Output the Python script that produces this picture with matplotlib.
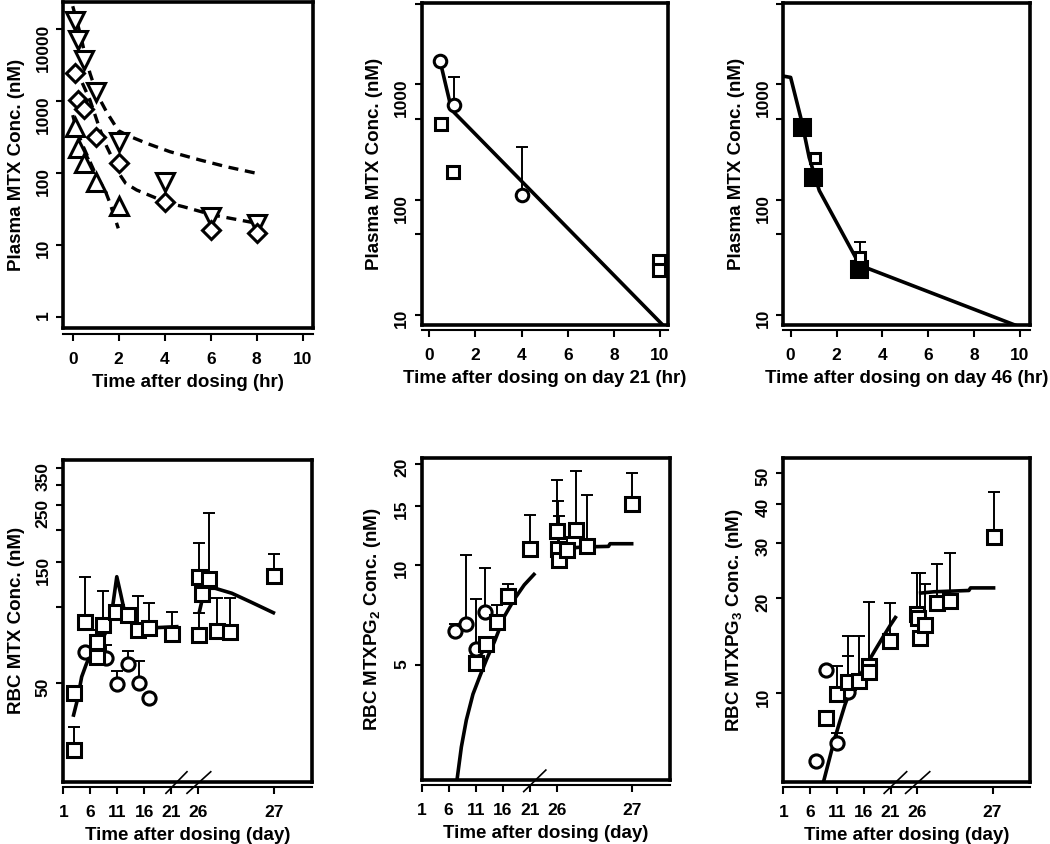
import matplotlib
matplotlib.use('Agg')
import matplotlib.pyplot as plt
import numpy as np
from matplotlib.transforms import blended_transform_factory
from matplotlib.ticker import NullLocator

plt.rcParams['font.family'] = 'Liberation Sans'
plt.rcParams['font.weight'] = 'bold'
plt.rcParams['axes.labelweight'] = 'bold'
plt.rcParams['mathtext.fontset'] = 'custom'
plt.rcParams['mathtext.rm'] = 'Liberation Sans:bold'
plt.rcParams['mathtext.bf'] = 'Liberation Sans:bold'

# --- panel 1: plasma MTX, first dose (hr) ---
p1_dn_t = [0.08, 0.25, 0.5, 1.0, 2.0, 4.0, 6.0, 8.0]
p1_dn_c = [13000, 7100, 3740, 1350, 273, 74, 24.7, 19.5]
p1_dia_t = [0.08, 0.25, 0.5, 1.0, 2.0, 4.0, 6.0, 8.0]
p1_dia_c = [2500, 1050, 780, 320, 136, 40, 16, 14.5]
p1_up_t = [0.08, 0.25, 0.5, 1.0, 2.0]
p1_up_c = [440, 220, 140, 75, 35]
p1_fit_a_t = [0.0, 0.32, 0.53, 0.75, 1.04, 1.48, 1.98, 2.42, 3.22, 4.23, 5.53, 6.7, 8.0]
p1_fit_a_c = [21000, 8800, 4500, 2440, 1285, 700, 390, 330, 259, 198, 152, 122, 99]
p1_fit_b_t = [0.1, 0.39, 0.75, 1.19, 1.48, 1.77, 2.0, 2.3, 2.78, 3.65, 4.23, 4.81, 6.11, 8.0]
p1_fit_b_c = [2900, 1866, 1037, 398, 232, 150, 100, 72, 58, 44.5, 37.8, 34, 26, 20]
p1_fit_c_t = [0.0, 0.17, 0.46, 1.04, 1.4, 1.62, 1.98]
p1_fit_c_c = [640, 398, 232, 89, 58, 38, 17]

# --- panel 2: plasma MTX on day 21 ---
p2_circ_t = [0.46, 1.07, 4.0]
p2_circ_c = [1611, 663, 110.6]
p2_circ_top = [np.nan, 1156, 284]
p2_sq_t = [0.5, 1.04, 9.97, 9.97]
p2_sq_c = [457, 173, 29.2, 24.8]
p2_fit_t = [0.45, 0.97, 10.2]
p2_fit_c = [1650, 600, 7.9]

# --- panel 3: plasma MTX on day 46 ---
p3_fill_t = [0.48, 0.99, 2.97]
p3_fill_c = [428, 158, 25.3]
p3_open_t = [1.06, 3.02]
p3_open_c = [232, 31.8]
p3_open_top = [np.nan, 43.4]
p3_fit_t = [-0.32, 0.0, 0.48, 0.81, 1.25, 3.02, 9.78]
p3_fit_c = [1180, 1150, 480, 232, 120, 27, 8.2]

# bottom row: axis positions, days 1..26 linear, "27" sits at position 40
day_ticks = [1, 6, 11, 16, 21, 26, 40]
day_labels = ['1', '6', '11', '16', '21', '26', '27']

# --- panel 4: RBC MTX ---
p4_sq_x = [3.0, 3.0, 5.0, 7.2, 7.2, 8.4, 10.8, 13.0, 14.9, 16.9, 21.1, 26.2, 26.2, 26.6, 28.0, 29.5, 31.9, 40.0]
p4_sq_y = [27.4, 45.7, 87.3, 72.9, 63.7, 84.8, 95.6, 92.8, 81.0, 82.3, 78.2, 77.5, 131.1, 111.8, 128.4, 80.5, 79.8, 132]
p4_sq_top = [33.7, 48.4, 131.1, 81.0, np.nan, 115.2, np.nan, np.nan, 110.1, 103.1, 95.6, 94.2, 178.2, np.nan, 232.4, 107.9, 107.9, 160.5]
p4_circ_x = [5.0, 8.9, 11.0, 13.0, 15.0, 16.9]
p4_circ_y = [66.6, 62.8, 49.8, 59.6, 50.4, 43.7]
p4_circ_top = [np.nan, 70.8, 56.1, 67.2, 61.2, np.nan]
p4_fit1_x = [2.9, 3.6, 4.4, 5.2, 6.1, 7.2, 8.1, 9.1, 10.0, 10.9, 11.6, 12.4, 13.4, 14.6, 15.8, 22.0]
p4_fit1_y = [37.6, 43.1, 53.1, 59.1, 65.7, 69.7, 74.0, 81.0, 95.6, 131.1, 112.8, 94.2, 90.1, 84.8, 82.3, 83.5]
p4_fit2_x = [26.2, 27.2, 29.1, 32.2, 35.6, 39.9]
p4_fit2_y = [95.6, 118.1, 118.1, 112.9, 104.6, 94.7]

# --- panel 5: RBC MTXPG2 ---
p5_sq_x = [11.1, 12.95, 15.0, 16.9, 21.0, 26.1, 26.3, 26.5, 28.0, 29.5, 31.6, 40.0]
p5_sq_y = [5.08, 5.81, 6.74, 8.08, 11.13, 12.63, 11.16, 10.3, 11.05, 12.66, 11.34, 15.2]
p5_sq_top = [np.nan, np.nan, 7.56, 8.78, 14.03, 17.9, 15.5, 14.0, 12.08, 19.1, 16.1, 18.8]
p5_circ_x = [7.12, 9.2, 11.0, 12.8]
p5_circ_y = [6.34, 6.65, 5.59, 7.24]
p5_circ_top = [6.64, 10.66, 7.9, 9.79]
p5_fit1_x = [7.43, 8.35, 9.27, 10.5, 11.8, 13.0, 14.5, 16.3, 18.2, 20.0, 21.8]
p5_fit1_y = [2.2, 2.85, 3.43, 4.1, 4.65, 5.2, 5.9, 7.0, 7.9, 8.7, 9.35]
p5_fit2_x = [25.5, 31.0, 35.6, 35.9, 39.9]
p5_fit2_y = [11.1, 11.3, 11.34, 11.55, 11.55]

# --- panel 6: RBC MTXPG3 ---
p6_sq_x = [9.0, 11.1, 13.0, 15.2, 17.0, 17.0, 20.9, 25.9, 26.1, 26.5, 27.5, 29.6, 32.0, 40.2]
p6_sq_y = [8.33, 9.92, 10.85, 10.9, 12.2, 11.7, 14.7, 17.9, 17.3, 15.0, 16.5, 19.35, 19.6, 31.4]
p6_sq_top = [np.nan, 12.2, 15.2, 15.2, 19.5, np.nan, 19.3, 24.1, np.nan, 24.0, 22.3, 25.7, 27.8, 43.6]
p6_circ_x = [7.1, 9.0, 11.1, 13.1]
p6_circ_y = [6.1, 11.85, 6.97, 10.1]
p6_circ_top = [np.nan, np.nan, 7.5, 13.1]
p6_fit1_x = [8.5, 9.5, 10.5, 11.5, 12.5, 13.5, 15.0, 16.5, 18.0, 19.5, 21.0, 21.9]
p6_fit1_y = [5.24, 6.1, 7.1, 8.1, 9.2, 10.2, 11.2, 12.3, 13.6, 15.0, 16.5, 17.4]
p6_fit2_x = [26.6, 29.1, 35.6, 35.9, 40.2]
p6_fit2_y = [20.8, 21.0, 21.2, 21.6, 21.6]


def frame(ax, xticks, xlabels, yticks, ylabels, xlabel, ylabel):
    for s in ax.spines.values():
        s.set_linewidth(2.6)
    ax.tick_params(axis='x', bottom=False, labelbottom=False)
    ax.set_yticks(yticks, ylabels)
    ax.yaxis.set_minor_locator(NullLocator())
    ax.tick_params(axis='y', direction='out', length=5, width=1.5,
                   labelsize=12.5, labelrotation=90, pad=4)
    ax.set_ylabel(ylabel, fontsize=13.5, labelpad=8)
    sec = ax.secondary_xaxis(-0.016)
    sec.set_xticks(xticks, xlabels)
    sec.spines['bottom'].set_linewidth(1.5)
    sec.tick_params(direction='out', length=5, width=1.5, labelsize=12.5, pad=8)
    sec.set_xlabel(xlabel, fontsize=13.5, labelpad=5)
    return sec


def up_err(ax, x, y, top):
    x, y, top = np.asarray(x), np.asarray(y), np.asarray(top)
    m = ~np.isnan(top)
    ax.errorbar(x[m], y[m], yerr=[np.zeros(m.sum()), top[m] - y[m]], fmt='none',
                ecolor='k', elinewidth=1.4, capsize=4.5, capthick=1.4, zorder=2)


def marks(ax, x, y, m, ms, face='white', mew=2.2):
    ax.plot(x, y, linestyle='none', marker=m, ms=ms, mfc=face, mec='k', mew=mew, zorder=3)


def breaks(ax, spans):
    tr = blended_transform_factory(ax.transData, ax.transAxes)
    for a, b in spans:
        ax.plot([a, b], [-0.036, 0.031], color='k', lw=1.2, transform=tr, clip_on=False)


fig = plt.figure(figsize=(10.5, 8.44), dpi=100)
ax1 = fig.add_axes([0.0603, 0.611, 0.2381, 0.3872])
ax2 = fig.add_axes([0.4016, 0.6149, 0.2349, 0.3812])
ax3 = fig.add_axes([0.746, 0.6149, 0.2350, 0.3812])
ax4 = fig.add_axes([0.0603, 0.0738, 0.2366, 0.3812])
ax5 = fig.add_axes([0.4016, 0.0758, 0.2365, 0.3812])
ax6 = fig.add_axes([0.746, 0.0738, 0.2350, 0.3832])

hr_ticks = [0, 2, 4, 6, 8, 10]
hr_labels = [str(t) for t in hr_ticks]
plasma = 'Plasma MTX Conc. (nM)'

# panel 1
ax1.set_yscale('log')
ax1.set_xlim(-0.41, 10.46)
ax1.set_ylim(0.69, 24400)
dash = (0, (3, 2))
for t, c in [(p1_fit_a_t, p1_fit_a_c), (p1_fit_b_t, p1_fit_b_c), (p1_fit_c_t, p1_fit_c_c)]:
    ax1.plot(t, c, color='k', lw=2.4, linestyle=dash, zorder=2)
marks(ax1, p1_dn_t, p1_dn_c, 'v', 12.5)
marks(ax1, p1_dia_t, p1_dia_c, 'D', 9)
marks(ax1, p1_up_t, p1_up_c, '^', 12.5)
frame(ax1, hr_ticks, hr_labels, [1, 10, 100, 1000, 10000], ['1', '10', '100', '1000', '10000'],
      'Time after dosing (hr)', plasma)

# panel 2
ax2.set_yscale('log')
ax2.set_xlim(-0.33, 10.36)
ax2.set_ylim(8.2, 5050)
ax2.plot(p2_fit_t, p2_fit_c, color='k', lw=2.6, zorder=2)
up_err(ax2, p2_circ_t, p2_circ_c, p2_circ_top)
marks(ax2, p2_circ_t, p2_circ_c, 'o', 9)
marks(ax2, p2_sq_t, p2_sq_c, 's', 8.5)
p_ticks = [10, 50, 100, 500, 1000, 5000]
p_labels = ['10', '', '100', '', '1000', '']
frame(ax2, hr_ticks, hr_labels, p_ticks, p_labels, 'Time after dosing on day 21 (hr)', plasma)

# panel 3
ax3.set_yscale('log')
ax3.set_xlim(-0.32, 10.44)
ax3.set_ylim(8.2, 5050)
ax3.plot(p3_fit_t, p3_fit_c, color='k', lw=2.6, zorder=2)
up_err(ax3, p3_open_t, p3_open_c, p3_open_top)
marks(ax3, p3_fill_t, p3_fill_c, 's', 11, face='k')
marks(ax3, p3_open_t, p3_open_c, 's', 7.5)
frame(ax3, hr_ticks, hr_labels, p_ticks, p_labels, 'Time after dosing on day 46 (hr)', plasma)

day_label = 'Time after dosing (day)'

# panel 4
ax4.set_yscale('log')
ax4.set_xlim(1, 47)
ax4.set_ylim(20.6, 376)
ax4.plot(p4_fit1_x, p4_fit1_y, color='k', lw=2.6, zorder=2)
ax4.plot(p4_fit2_x, p4_fit2_y, color='k', lw=2.6, zorder=2)
up_err(ax4, p4_sq_x, p4_sq_y, p4_sq_top)
up_err(ax4, p4_circ_x, p4_circ_y, p4_circ_top)
marks(ax4, p4_circ_x, p4_circ_y, 'o', 9.5)
marks(ax4, p4_sq_x, p4_sq_y, 's', 9.5)
frame(ax4, day_ticks, day_labels, [50, 100, 150, 200, 250, 300, 350],
      ['50', '', '150', '', '250', '', '350'], day_label, 'RBC MTX Conc. (nM)')
breaks(ax4, [(20.0, 23.9), (23.9, 28.3)])

# panel 5
ax5.set_yscale('log')
ax5.set_xlim(1, 47)
ax5.set_ylim(2.27, 20.8)
ax5.plot(p5_fit1_x, p5_fit1_y, color='k', lw=2.6, zorder=2)
ax5.plot(p5_fit2_x, p5_fit2_y, color='k', lw=2.6, zorder=2)
up_err(ax5, p5_sq_x, p5_sq_y, p5_sq_top)
up_err(ax5, p5_circ_x, p5_circ_y, p5_circ_top)
marks(ax5, p5_circ_x, p5_circ_y, 'o', 9.5)
marks(ax5, p5_sq_x, p5_sq_y, 's', 9.5)
frame(ax5, day_ticks, day_labels, [5, 10, 15, 20], ['5', '10', '15', '20'],
      day_label, r'RBC MTXPG$_\mathbf{2}$ Conc. (nM)')
breaks(ax5, [(19.9, 24.0)])

# panel 6
ax6.set_yscale('log')
ax6.set_xlim(1, 47)
ax6.set_ylim(5.24, 55.7)
ax6.plot(p6_fit1_x, p6_fit1_y, color='k', lw=2.6, zorder=2)
ax6.plot(p6_fit2_x, p6_fit2_y, color='k', lw=2.6, zorder=2)
up_err(ax6, p6_sq_x, p6_sq_y, p6_sq_top)
up_err(ax6, p6_circ_x, p6_circ_y, p6_circ_top)
marks(ax6, p6_circ_x, p6_circ_y, 'o', 9.5)
marks(ax6, p6_sq_x, p6_sq_y, 's', 9.5)
frame(ax6, day_ticks, day_labels, [10, 20, 30, 40, 50], ['10', '20', '30', '40', '50'],
      day_label, r'RBC MTXPG$_\mathbf{3}$ Conc. (nM)')
breaks(ax6, [(19.8, 24.0), (23.8, 28.3)])

fig.savefig('out.png', dpi=100)
